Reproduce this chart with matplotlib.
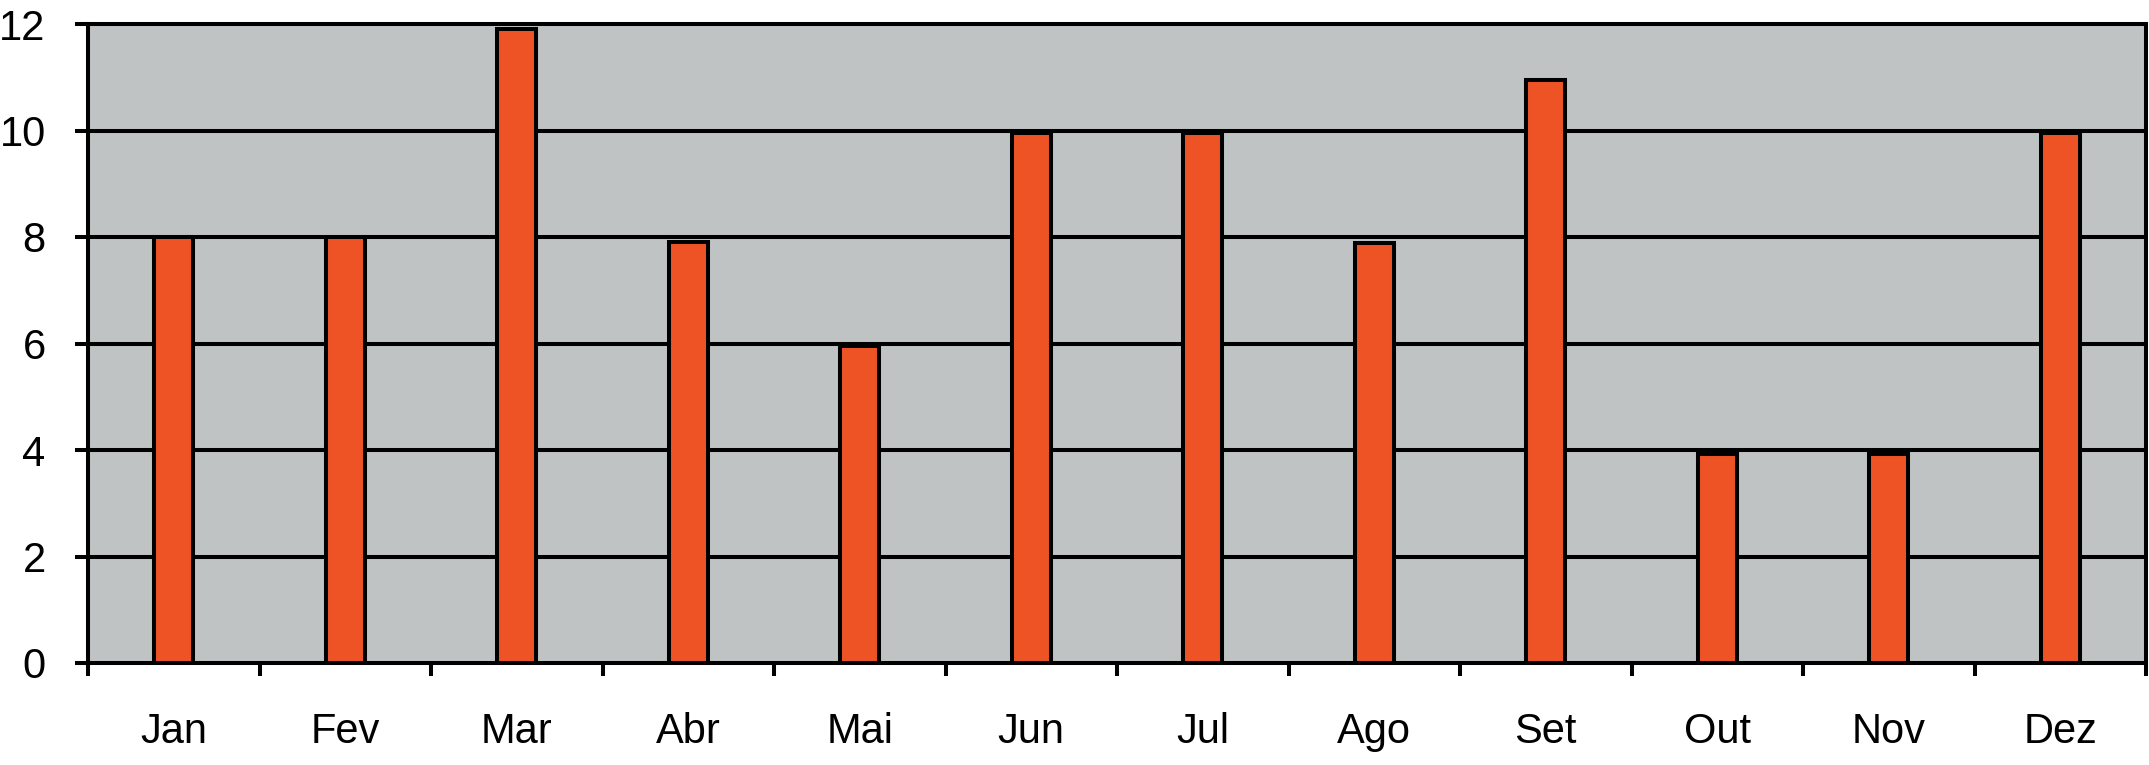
import matplotlib
matplotlib.use("Agg")
import matplotlib.pyplot as plt
import numpy as np

months = ["Jan", "Fev", "Mar", "Abr", "Mai", "Jun", "Jul", "Ago", "Set", "Out", "Nov", "Dez"]
values = [8.0, 8.0, 11.9, 7.9, 5.95, 9.95, 9.95, 7.88, 10.95, 3.92, 3.92, 9.95]
yticks = [0, 2, 4, 6, 8, 10, 12]

plt.rcParams['font.family'] = ['Liberation Sans', 'DejaVu Sans']

fig = plt.figure(figsize=(21.49, 7.65), dpi=100)
ax = fig.add_axes([88/2149, 1 - 663/765, (2146 - 88)/2149, (663 - 24)/765])
ax.set_facecolor("#C0C3C4")

x = np.arange(len(months))
ax.set_xlim(-0.5, len(months) - 0.5)
ax.set_ylim(0, 12)

for yv in yticks[1:-1]:
    ax.axhline(yv, color="black", lw=2.9, zorder=1)

ax.bar(x, values, width=0.227, color="#EE5325", edgecolor="black", linewidth=2.9, zorder=3)

ax.set_yticks(yticks)
ax.set_yticklabels([str(v) for v in yticks])
ax.set_xticks(x)
ax.set_xticklabels(months)
ax.set_xticks(np.arange(-0.5, len(months)), minor=True)

ax.tick_params(axis="y", which="major", length=9.5, width=2.9, pad=21, labelsize=30)
ax.tick_params(axis="x", which="major", length=0, pad=35, labelsize=30)
ax.tick_params(axis="x", which="minor", length=9.5, width=2.9)

for s in ax.spines.values():
    s.set_linewidth(2.9)
    s.set_color("black")

fig.savefig("out.png", dpi=100, facecolor="white")
